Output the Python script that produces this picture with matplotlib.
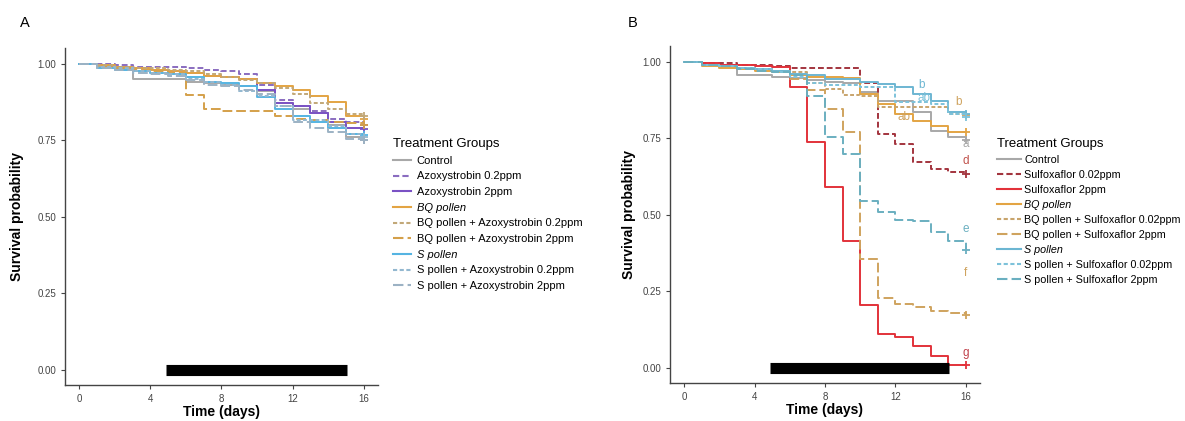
import numpy as np
import matplotlib
matplotlib.use("Agg")
import matplotlib.pyplot as plt

plt.rcParams['font.family'] = ['Liberation Sans', 'DejaVu Sans']

days = list(range(17))

# ---- panel A: azoxystrobin ----
groups_a = ["Control", "Azoxystrobin 0.2ppm", "Azoxystrobin 2ppm", "BQ pollen",
            "BQ pollen + Azoxystrobin 0.2ppm", "BQ pollen + Azoxystrobin 2ppm",
            "S pollen", "S pollen + Azoxystrobin 0.2ppm", "S pollen + Azoxystrobin 2ppm"]
surv_a = [
    [1, .99, .985, .951, .95, .948, .94, .935, .93, .925, .91, .87, .85, .84, .80, .76, .75],
    [1, 1, .995, .99, .99, .988, .985, .98, .975, .965, .93, .88, .862, .845, .82, .81, .80],
    [1, .995, .99, .985, .98, .975, .97, .96, .955, .95, .915, .87, .86, .84, .81, .79, .785],
    [1, .995, .99, .985, .98, .975, .97, .96, .955, .95, .935, .925, .915, .895, .875, .83, .82],
    [1, .995, .99, .985, .985, .98, .975, .965, .955, .945, .935, .92, .90, .87, .85, .835, .83],
    [1, .99, .985, .98, .975, .97, .897, .853, .844, .844, .844, .828, .82, .815, .81, .805, .80],
    [1, .985, .98, .975, .97, .965, .955, .94, .935, .925, .89, .85, .83, .81, .79, .77, .765],
    [1, .99, .985, .975, .97, .965, .95, .94, .93, .91, .895, .86, .815, .815, .795, .77, .76],
    [1, .985, .98, .97, .965, .96, .945, .93, .925, .915, .90, .86, .81, .79, .775, .755, .75],
]
colors_a = ["#A8A8A8", "#8A6CC0", "#7A52C4", "#E3A443", "#C2A878", "#D4A04A",
            "#55B4E2", "#93B8D0", "#9CB2C4"]
styles_a = ["-", (0, (3, 1.5)), "-", "-", (0, (2, 1.2)), (0, (5, 2)),
            "-", (0, (2, 1.2)), (0, (5, 2))]

# ---- panel B: sulfoxaflor ----
groups_b = ["Control", "Sulfoxaflor 0.02ppm", "Sulfoxaflor 2ppm", "BQ pollen",
            "BQ pollen + Sulfoxaflor 0.02ppm", "BQ pollen + Sulfoxaflor 2ppm",
            "S pollen", "S pollen + Sulfoxaflor 0.02ppm", "S pollen + Sulfoxaflor 2ppm"]
surv_b = [
    [1, .99, .985, .955, .955, .95, .945, .94, .935, .93, .90, .873, .873, .835, .774, .753, .745],
    [1, .995, .995, .99, .99, .985, .98, .98, .98, .98, .93, .763, .73, .671, .648, .638, .632],
    [1, .995, .99, .99, .985, .983, .918, .737, .59, .415, .204, .112, .102, .07, .037, .008, .008],
    [1, .985, .98, .975, .97, .965, .955, .95, .95, .945, .895, .862, .83, .807, .79, .77, .77],
    [1, .99, .985, .98, .975, .97, .965, .93, .91, .89, .887, .852, .852, .852, .852, .829, .825],
    [1, .99, .985, .98, .975, .97, .944, .906, .845, .77, .355, .227, .21, .198, .187, .179, .172],
    [1, .99, .985, .98, .975, .97, .96, .955, .944, .944, .934, .928, .917, .895, .873, .835, .83],
    [1, .99, .985, .98, .975, .965, .95, .93, .925, .925, .917, .917, .868, .868, .86, .83, .82],
    [1, .99, .985, .975, .97, .965, .955, .889, .753, .697, .544, .51, .484, .478, .445, .415, .385],
]
colors_b = ["#A8A8A8", "#A3343E", "#E2323A", "#E3A443", "#C8A46C", "#CFA35E",
            "#6CB6D2", "#7DC2DA", "#6AAFC0"]
styles_b = ["-", (0, (3, 1.5)), "-", "-", (0, (2, 1.2)), (0, (5, 2)),
            "-", (0, (2, 1.2)), (0, (5, 2))]

# significance letters (text, day, survival, colour)
letters_b = [("b", 13.5, 0.905, "#6CB6D2"), ("ab", 13.6, 0.862, "#7DC2DA"),
             ("b", 15.6, 0.848, "#CFA35E"), ("ab", 12.5, 0.80, "#CFA35E"),
             ("a", 16.0, 0.71, "#A8A8A8"), ("d", 16.0, 0.655, "#C0504A"),
             ("e", 16.0, 0.435, "#6AAFC0"), ("f", 16.0, 0.29, "#CFA35E"),
             ("g", 16.0, 0.03, "#C0404A")]

exposure = (4.9, 15.05)

fig = plt.figure(figsize=(11.85, 4.21), dpi=100)
ax_a = fig.add_axes([0.0549, 0.0855, 0.264, 0.80])
ax_b = fig.add_axes([0.5654, 0.090, 0.2616, 0.80])


def draw_panel(ax, groups, surv, colors, styles, leg_pos, fsize, handlelen, textpad, spacing):
    for name, s, c, ls in zip(groups, surv, colors, styles):
        ax.step(days, s, where='post', color=c, linestyle=ls, lw=1.4, label=name)
        ax.plot(days[-1], s[-1], marker='+', color=c, ms=6, mew=1.3, ls='none')
    ax.plot(exposure, [0.0, 0.0], color='black', lw=8, solid_capstyle='butt')
    ax.set_xlim(-0.8, 16.8)
    ax.set_ylim(-0.05, 1.05)
    ax.set_xticks([0, 4, 8, 12, 16])
    ax.set_yticks([0, 0.25, 0.5, 0.75, 1.0])
    ax.set_yticklabels(["0.00", "0.25", "0.50", "0.75", "1.00"])
    for sp in ["top", "right"]:
        ax.spines[sp].set_visible(False)
    for sp in ["left", "bottom"]:
        ax.spines[sp].set_color("#444444")
        ax.spines[sp].set_linewidth(1.0)
    ax.tick_params(labelsize=7, colors="#444444", length=3, width=0.8)
    ax.set_xlabel("Time (days)", fontsize=10, fontweight='bold')
    ax.set_ylabel("Survival probability", fontsize=10, fontweight='bold')
    leg = ax.legend(loc='upper left', bbox_to_anchor=leg_pos, frameon=False,
                    title="Treatment Groups", fontsize=fsize, title_fontsize=9.5,
                    handlelength=handlelen, handletextpad=textpad,
                    labelspacing=spacing, borderpad=0, borderaxespad=0,
                    alignment='left')
    for txt in leg.get_texts():
        if txt.get_text() in ("BQ pollen", "S pollen"):
            txt.set_fontstyle('italic')
    for line in leg.get_lines():
        line.set_linewidth(1.5)
    return leg


draw_panel(ax_a, groups_a, surv_a, colors_a, styles_a, (1.048, 0.733), 8, 1.6, 0.55, 0.51)
draw_panel(ax_b, groups_b, surv_b, colors_b, styles_b, (1.055, 0.729), 7.75, 2.2, 0.35, 0.47)

for txt, x, y, c in letters_b:
    ax_b.text(x, y, txt, color=c, fontsize=8.5, ha='center', va='bottom')

ax_a.yaxis.set_label_coords(-0.13, 0.5)
ax_b.yaxis.set_label_coords(-0.11, 0.5)
ax_a.xaxis.set_label_coords(0.5, -0.06)
ax_b.xaxis.set_label_coords(0.5, -0.06)

fig.text(0.017, 0.935, "A", fontsize=10.5)
fig.text(0.530, 0.935, "B", fontsize=10.5)

fig.savefig("out.png", dpi=100)
